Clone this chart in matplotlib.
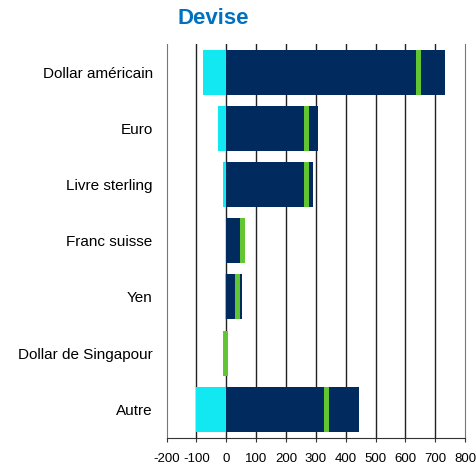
import numpy as np
import matplotlib.pyplot as plt

plt.rcParams['font.family'] = ['Liberation Sans', 'DejaVu Sans']

# devises et positions (lecture du graphique)
devises = ['Dollar américain', 'Euro', 'Livre sterling', 'Franc suisse',
           'Yen', 'Dollar de Singapour', 'Autre']
negatif = [-78, -28, -11, 0, -3, 0, -101]
positif = [733, 306, 290, 46, 51, 0, 445]
net = [644, 269, 269, 54, 37, -3, 336]
ticks_x = [-200, -100, 0, 100, 200, 300, 400, 500, 600, 700, 800]

fig = plt.figure(figsize=(4.76, 4.67), dpi=100)
ax = fig.add_axes([0.350, 0.063, 0.627, 0.843])

y = np.arange(len(devises))
ax.barh(y, negatif, height=0.8, color='#12E8F2', zorder=2)
ax.barh(y, positif, height=0.8, color='#012A5E', zorder=2)
ax.barh(y, 17, left=np.array(net) - 8.5, height=0.8, color='#62C534', zorder=3)

ax.set_xlim(-200, 800)
ax.set_ylim(len(devises) - 0.5, -0.5)
ax.set_xticks(ticks_x)
ax.set_xticklabels([str(t) for t in ticks_x])
ax.set_yticks(y)
ax.set_yticklabels(devises)
ax.tick_params(axis='y', length=0, pad=10, labelsize=11)
ax.tick_params(axis='x', length=3, pad=8, labelsize=9.5, color='#333333')

for t in ticks_x[1:-1]:
    ax.axvline(t, color='#222222', linewidth=1, zorder=1)
ax.spines['top'].set_visible(False)
ax.spines['left'].set_color('#777777')
ax.spines['right'].set_color('#777777')
ax.spines['bottom'].set_color('#333333')

fig.text(0.448, 0.961, 'Devise', ha='center', va='center', fontsize=16,
         fontweight='bold', color='#0070C0')

plt.savefig('out.png', dpi=100)
